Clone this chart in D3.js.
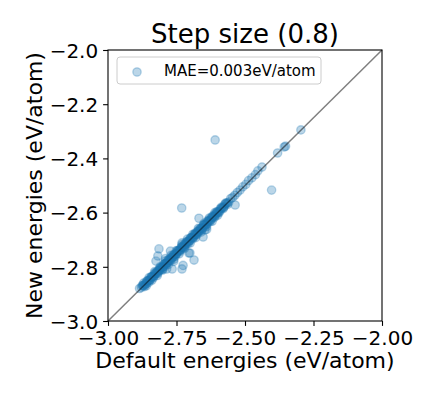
<!DOCTYPE html>
<html>
<head>
<meta charset="utf-8">
<script src="https://cdn.jsdelivr.net/npm/d3@7"></script>
<style>
  body { margin: 0; background: #fff; }
  svg { display: block; font-family: "DejaVu Sans", sans-serif; }
</style>
</head>
<body>
<svg id="chart"></svg>
<script>
// Default energies (x) vs new energies (y), eV/atom
const defaultE = [
  -2.885, -2.878, -2.872, -2.866, -2.861, -2.856, -2.851, -2.846, -2.842, -2.838,
  -2.834, -2.830, -2.826, -2.822, -2.818, -2.814, -2.810, -2.806, -2.802, -2.798,
  -2.794, -2.790, -2.786, -2.782, -2.778, -2.774, -2.770, -2.766, -2.762, -2.758,
  -2.754, -2.750, -2.746, -2.742, -2.738, -2.734, -2.730, -2.726, -2.722, -2.718,
  -2.714, -2.710, -2.706, -2.702, -2.698, -2.694, -2.690, -2.686, -2.682, -2.678,
  -2.674, -2.670, -2.666, -2.662, -2.658, -2.654, -2.650, -2.646, -2.642, -2.638,
  -2.633, -2.628, -2.623, -2.618, -2.613, -2.608, -2.603, -2.597, -2.591, -2.585,
  -2.579, -2.573, -2.566, -2.559, -2.552, -2.545, -2.537, -2.528, -2.518, -2.508,
  -2.497, -2.487, -2.475, -2.462, -2.453, -2.438, -2.381, -2.357, -2.352, -2.296,
  -2.870, -2.860, -2.850, -2.840, -2.830, -2.820, -2.810, -2.800, -2.790, -2.780,
  -2.770, -2.760, -2.750, -2.740, -2.730, -2.720, -2.710, -2.700, -2.690, -2.680,
  -2.670, -2.660, -2.650, -2.640, -2.630, -2.620, -2.610, -2.600,
  -2.875, -2.867, -2.859, -2.851, -2.843, -2.835, -2.827, -2.819, -2.811, -2.803,
  -2.795, -2.787, -2.779, -2.771, -2.763, -2.755, -2.747, -2.739, -2.731, -2.723,
  -2.715, -2.707, -2.699, -2.691, -2.683, -2.675, -2.667, -2.659, -2.651, -2.643,
  -2.635, -2.627, -2.619, -2.611, -2.603, -2.595, -2.587, -2.579, -2.571, -2.563,
  -2.871, -2.863, -2.855, -2.847, -2.839, -2.831, -2.823, -2.815, -2.807, -2.799,
  -2.791, -2.783, -2.775, -2.767, -2.759, -2.751, -2.743, -2.735, -2.727, -2.719,
  -2.711, -2.703, -2.695, -2.687, -2.679, -2.671, -2.663, -2.655, -2.647, -2.639,
  -2.631, -2.623, -2.615, -2.607, -2.599, -2.591, -2.583, -2.575, -2.567,
  -2.609, -2.731, -2.403, -2.536, -2.668, -2.814, -2.686, -2.825, -2.800, -2.730,
  -2.766, -2.726, -2.705, -2.772, -2.730, -2.653, -2.640, -2.646, -2.790, -2.760,
  -2.701, -2.818, -2.786
];
const newE = [
  -2.880, -2.876, -2.870, -2.864, -2.863, -2.852, -2.850, -2.848, -2.838, -2.836,
  -2.835, -2.826, -2.825, -2.824, -2.814, -2.813, -2.812, -2.802, -2.801, -2.800,
  -2.790, -2.789, -2.788, -2.778, -2.777, -2.776, -2.766, -2.765, -2.764, -2.754,
  -2.753, -2.752, -2.742, -2.741, -2.740, -2.730, -2.729, -2.728, -2.718, -2.717,
  -2.716, -2.706, -2.705, -2.704, -2.694, -2.693, -2.692, -2.682, -2.681, -2.680,
  -2.670, -2.669, -2.668, -2.658, -2.657, -2.656, -2.646, -2.645, -2.644, -2.634,
  -2.632, -2.630, -2.619, -2.617, -2.615, -2.604, -2.602, -2.599, -2.587, -2.584,
  -2.581, -2.569, -2.565, -2.561, -2.548, -2.544, -2.536, -2.526, -2.517, -2.505,
  -2.496, -2.482, -2.472, -2.460, -2.446, -2.432, -2.380, -2.358, -2.355, -2.295,
  -2.860, -2.870, -2.840, -2.850, -2.818, -2.832, -2.800, -2.812, -2.778, -2.792,
  -2.758, -2.772, -2.740, -2.752, -2.718, -2.732, -2.698, -2.712, -2.680, -2.692,
  -2.658, -2.672, -2.640, -2.652, -2.620, -2.632, -2.600, -2.610,
  -2.869, -2.873, -2.853, -2.857, -2.837, -2.841, -2.821, -2.825, -2.805, -2.809,
  -2.789, -2.793, -2.773, -2.777, -2.757, -2.761, -2.741, -2.745, -2.725, -2.729,
  -2.709, -2.713, -2.693, -2.697, -2.677, -2.681, -2.661, -2.665, -2.645, -2.649,
  -2.629, -2.633, -2.613, -2.617, -2.597, -2.601, -2.581, -2.585, -2.565, -2.569,
  -2.869, -2.865, -2.853, -2.849, -2.837, -2.833, -2.821, -2.817, -2.805, -2.801,
  -2.789, -2.785, -2.773, -2.769, -2.757, -2.753, -2.741, -2.737, -2.725, -2.721,
  -2.709, -2.705, -2.693, -2.689, -2.677, -2.673, -2.661, -2.657, -2.645, -2.641,
  -2.629, -2.625, -2.613, -2.609, -2.597, -2.593, -2.581, -2.577, -2.565,
  -2.332, -2.583, -2.517, -2.572, -2.621, -2.734, -2.775, -2.779, -2.808, -2.808,
  -2.808, -2.795, -2.749, -2.742, -2.712, -2.690, -2.662, -2.664, -2.770, -2.780,
  -2.749, -2.760, -2.808
];

const xTicks = [-3, -2.75, -2.5, -2.25, -2];
const yTicks = [-3, -2.8, -2.6, -2.4, -2.2, -2];
const titleText = "Step size (0.8)";
const xLabel = "Default energies (eV/atom)";
const yLabel = "New energies (eV/atom)";
const legendText = "MAE=0.003eV/atom";

// Dimensions
const Width = 432;
const Height = 396;
const mLeft = 108, mRight = 382, mTop = 50, mBottom = 321;
const tickLen = 4.9;
const blue = "#1f77b4";

const svg = d3.select("#chart")
  .attr("width", Width)
  .attr("height", Height);

svg.append("rect")
  .attr("width", Width)
  .attr("height", Height)
  .attr("fill", "#fff");

// Scales
const xScale = d3.scaleLinear().domain([-3, -2]).range([mLeft, mRight]);
const yScale = d3.scaleLinear().domain([-3, -2]).range([mBottom, mTop]);

// Points
const points = defaultE.map((d, i) => ({ x: d, y: newE[i] }));
svg.append("g")
  .selectAll("circle")
  .data(points)
  .enter()
  .append("circle")
  .attr("cx", d => xScale(d.x))
  .attr("cy", d => yScale(d.y))
  .attr("r", 4.2)
  .attr("fill", blue)
  .attr("fill-opacity", 0.3)
  .attr("stroke", blue)
  .attr("stroke-opacity", 0.3)
  .attr("stroke-width", 1.3);

// Diagonal y = x
svg.append("line")
  .attr("x1", xScale(-3))
  .attr("y1", yScale(-3))
  .attr("x2", xScale(-2))
  .attr("y2", yScale(-2))
  .attr("stroke", "#000")
  .attr("stroke-opacity", 0.5)
  .attr("stroke-width", 1.5);

// Axes
const xAxis = svg.append("g")
  .attr("transform", `translate(0,${mBottom})`)
  .call(d3.axisBottom(xScale).tickValues(xTicks).tickFormat(d3.format(".2f"))
    .tickSize(tickLen).tickPadding(4.9));
const yAxis = svg.append("g")
  .attr("transform", `translate(${mLeft},0)`)
  .call(d3.axisLeft(yScale).tickValues(yTicks).tickFormat(d3.format(".1f"))
    .tickSize(tickLen).tickPadding(4.9));

[xAxis, yAxis].forEach(a => {
  a.select(".domain").remove();
  a.selectAll("line").attr("stroke", "#000").attr("stroke-width", 1.1);
  a.selectAll("text")
    .attr("font-family", "DejaVu Sans")
    .attr("font-size", 20)
    .attr("fill", "#000");
});
xAxis.selectAll("text").attr("dy", "0.73em");
yAxis.selectAll("text").attr("dy", "0.36em");

// Frame
svg.append("rect")
  .attr("x", mLeft)
  .attr("y", mTop)
  .attr("width", mRight - mLeft)
  .attr("height", mBottom - mTop)
  .attr("fill", "none")
  .attr("stroke", "#000")
  .attr("stroke-width", 1.1);

// Title and labels
svg.append("text")
  .attr("x", (mLeft + mRight) / 2)
  .attr("y", 43)
  .attr("text-anchor", "middle")
  .attr("font-size", 26)
  .text(titleText);

svg.append("text")
  .attr("x", (mLeft + mRight) / 2)
  .attr("y", 368)
  .attr("text-anchor", "middle")
  .attr("font-size", 22)
  .text(xLabel);

svg.append("text")
  .attr("transform", `translate(42,${(mTop + mBottom) / 2}) rotate(-90)`)
  .attr("text-anchor", "middle")
  .attr("font-size", 22)
  .text(yLabel);

// Legend
const legend = svg.append("g");
legend.append("rect")
  .attr("x", 117)
  .attr("y", 57)
  .attr("width", 204)
  .attr("height", 27)
  .attr("rx", 3)
  .attr("fill", "#fff")
  .attr("fill-opacity", 0.8)
  .attr("stroke", "#ccc")
  .attr("stroke-width", 1);
legend.append("circle")
  .attr("cx", 137)
  .attr("cy", 72)
  .attr("r", 4.2)
  .attr("fill", blue)
  .attr("fill-opacity", 0.3)
  .attr("stroke", blue)
  .attr("stroke-opacity", 0.3)
  .attr("stroke-width", 1.3);
legend.append("text")
  .attr("x", 164)
  .attr("y", 75.5)
  .attr("font-size", 15)
  .text(legendText);
</script>
</body>
</html>
